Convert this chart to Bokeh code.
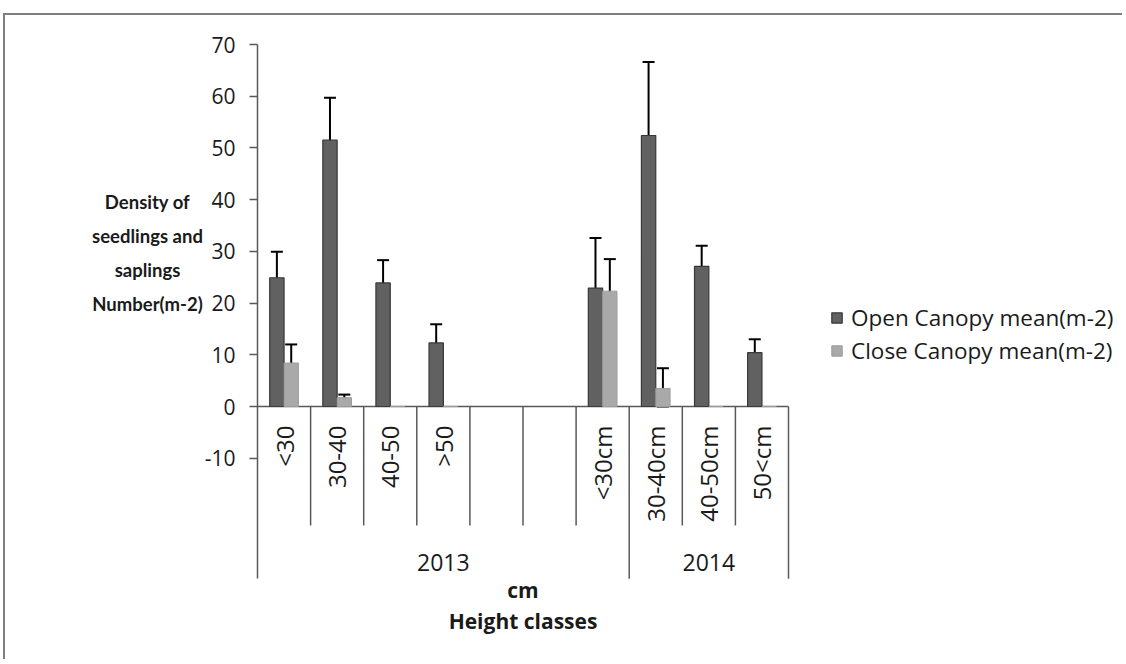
import numpy as np
from bokeh.plotting import figure
from bokeh.models import (ColumnDataSource, Range1d, FixedTicker, Whisker, TeeHead,
                          Legend, LegendItem)
from bokeh.core.properties import value
from bokeh.embed import file_html
from bokeh.resources import INLINE

nan = float("nan")

# ---------------- data ----------------
years = ["2013", "2013", "2013", "2013", "2013", "2013", "2013", "2014", "2014", "2014"]
classes = ["<30", "30-40", "40-50", ">50", "", "", "<30cm", "30-40cm", "40-50cm", "50<cm"]
open_mean = [24.9, 51.5, 23.9, 12.3, nan, nan, 22.9, 52.4, 27.1, 10.4]
open_err = [5.0, 8.2, 4.4, 3.6, nan, nan, 9.7, 14.2, 4.0, 2.6]
close_mean = [8.4, 1.7, 0.0, 0.0, nan, nan, 22.3, 3.5, 0.0, 0.0]
close_err = [3.6, 0.6, nan, nan, nan, nan, 6.2, 3.9, nan, nan]
y_ticks = [-10, 0, 10, 20, 30, 40, 50, 60, 70]
series_names = ["Open Canopy mean(m-2)", "Close Canopy mean(m-2)"]
y_title_lines = ["Density of", "seedlings and", "saplings", "Number(m-2)"]
x_title_1 = "cm"
x_title_2 = "Height classes"

# ---------------- layout constants ----------------
FONT = "Open Sans"
FONT_YT = "Lato"
FS_TICK = "21px"
FS = "23px"
FS_ROT = "24px"
FS_LEG = "22.5px"
FS_XT = "21px"
FS_YT = "18.5px"
W, H = 1119, 646
MIN_LEFT, MIN_TOP = 70, 0
PAGE_LEFT = 3 + 2          # css margin + border
PAGE_TOP = 13 + 2
AXIS_PAGE_X = 257
TOP_TICK_PAGE_Y = 44
PX_PER_X = 53.1
PX_PER_Y = 362.0 / 70.0
Y_TOP_TICK = 70
AXIS_BOTTOM = -33.3
DIV_BOTTOM = -23.0
CAT_LABEL_Y = -3.67
GROUP_LABEL_Y = -30.2
XT1_Y, XT2_Y = -35.4, -41.4
YT_X = (147 - AXIS_PAGE_X) / PX_PER_X
YT_Y = 29.6
YT_STEP = 34 / PX_PER_Y
BAR_W = 0.27
OPEN_FILL, OPEN_LINE = "#616161", "#383838"
CLOSE_FILL, CLOSE_LINE = "#a9a9a9", "#9c9c9c"
AXIS_COLOR = "#595959"
TEXT_COLOR = "#1a1a1a"

frame_left_page = PAGE_LEFT + MIN_LEFT
frame_top_page = PAGE_TOP + MIN_TOP
x_start = -(AXIS_PAGE_X - frame_left_page) / PX_PER_X
x_end = x_start + (W - MIN_LEFT) / PX_PER_X
y_end = Y_TOP_TICK + (TOP_TICK_PAGE_Y - frame_top_page) / PX_PER_Y
y_start = y_end - (H - MIN_TOP) / PX_PER_Y

n = len(classes)
idx = np.arange(n)
centers = idx + 0.5

p = figure(width=W, height=H, output_backend="svg", toolbar_location=None,
           x_range=Range1d(x_start, x_end), y_range=Range1d(y_start, y_end),
           x_axis_location=None, min_border_left=MIN_LEFT, min_border_top=MIN_TOP,
           min_border_right=0, min_border_bottom=0)
p.grid.visible = False
p.outline_line_color = None
p.styles = {"border-top": "2px solid #7f7f7f", "border-left": "2px solid #7f7f7f",
            "margin-top": "13px", "margin-left": "3px"}

ya = p.yaxis[0]
ya.fixed_location = 0
ya.ticker = FixedTicker(ticks=y_ticks)
ya.bounds = (AXIS_BOTTOM, Y_TOP_TICK)
ya.major_label_overrides = {t: str(t) for t in y_ticks}
ya.axis_line_color = AXIS_COLOR
ya.axis_line_width = 1.5
ya.major_tick_line_color = AXIS_COLOR
ya.major_tick_line_width = 1.5
ya.major_tick_out = 8
ya.major_tick_in = 0
ya.minor_tick_line_color = None
ya.major_label_standoff = 14
ya.major_label_text_font = FONT
ya.major_label_text_font_size = FS_TICK
ya.major_label_text_color = TEXT_COLOR

# y title (one glyph per line)
nl = len(y_title_lines)
p.text(x=[YT_X] * nl, y=[YT_Y + ((nl - 1) / 2 - i) * YT_STEP for i in range(nl)],
       text=y_title_lines, text_align="center", text_baseline="middle",
       text_font=value(FONT_YT), text_font_size=FS_YT, text_font_style="bold",
       text_color=TEXT_COLOR)

# horizontal category axis at zero
p.segment(x0=[0], y0=[0], x1=[n], y1=[0], line_color=AXIS_COLOR, line_width=1.5)

# dividers between categories (short) and between groups (long)
div_x, div_y1 = [], []
for i in range(1, n + 1):
    div_x.append(i)
    div_y1.append(AXIS_BOTTOM if (i == n or years[i] != years[i - 1]) else DIV_BOTTOM)
p.segment(x0=div_x, y0=[0] * len(div_x), x1=div_x, y1=div_y1,
          line_color=AXIS_COLOR, line_width=1.5)

# category labels (rotated)
p.text(x=list(centers), y=[CAT_LABEL_Y] * n, text=classes, angle=np.pi / 2,
       text_align="right", text_baseline="middle", text_font=value(FONT),
       text_font_size=FS_ROT, text_color=TEXT_COLOR)

# group labels
groups = []
for i, yr in enumerate(years):
    if not groups or groups[-1][0] != yr:
        groups.append([yr, i, i + 1])
    else:
        groups[-1][2] = i + 1
p.text(x=[(g[1] + g[2]) / 2 for g in groups], y=[GROUP_LABEL_Y] * len(groups),
       text=[g[0] for g in groups], text_align="center", text_baseline="middle",
       text_font=value(FONT), text_font_size=FS, text_color=TEXT_COLOR)

# x titles
p.text(x=[n / 2, n / 2], y=[XT1_Y, XT2_Y], text=[x_title_1, x_title_2],
       text_align="center", text_baseline="middle", text_font=value(FONT),
       text_font_size=FS_XT, text_font_style="bold", text_color=TEXT_COLOR)

# bars
src_o = ColumnDataSource(dict(x=centers - BAR_W / 2, top=np.array(open_mean, dtype=float)))
src_c = ColumnDataSource(dict(x=centers + BAR_W / 2, top=np.array(close_mean, dtype=float)))
r_open = p.vbar(x="x", top="top", bottom=0, width=BAR_W, source=src_o,
                fill_color=OPEN_FILL, line_color=OPEN_LINE, line_width=1.2)
r_close = p.vbar(x="x", top="top", bottom=0, width=BAR_W, source=src_c,
                 fill_color=CLOSE_FILL, line_color=CLOSE_LINE, line_width=1)

# error bars
def add_whisker(xs, means, errs):
    xs = np.asarray(xs)
    means = np.asarray(means, dtype=float)
    errs = np.asarray(errs, dtype=float)
    ok = np.isfinite(errs) & np.isfinite(means)
    src = ColumnDataSource(dict(base=xs[ok], upper=(means + errs)[ok],
                                lower=np.maximum(means - errs, 0)[ok]))
    w = Whisker(base="base", upper="upper", lower="lower", source=src,
                line_color="black", line_width=2,
                upper_head=TeeHead(size=12, line_color="black", line_width=2),
                lower_head=TeeHead(size=12, line_color="black", line_width=2))
    p.add_layout(w)

add_whisker(centers - BAR_W / 2, open_mean, open_err)
add_whisker(centers + BAR_W / 2, close_mean, close_err)

# legend
frame_bottom_page = PAGE_TOP + H
legend = Legend(items=[LegendItem(label=series_names[0], renderers=[r_open]),
                       LegendItem(label=series_names[1], renderers=[r_close])],
                location=(830 - frame_left_page, frame_bottom_page - 366),
                border_line_color=None, background_fill_alpha=0,
                glyph_width=13, glyph_height=13, label_height=30, label_standoff=8,
                spacing=2, padding=0, margin=0,
                label_text_font=FONT, label_text_font_size=FS_LEG,
                label_text_color=TEXT_COLOR)
p.add_layout(legend)

open("out.html", "w").write(file_html(p, INLINE))
